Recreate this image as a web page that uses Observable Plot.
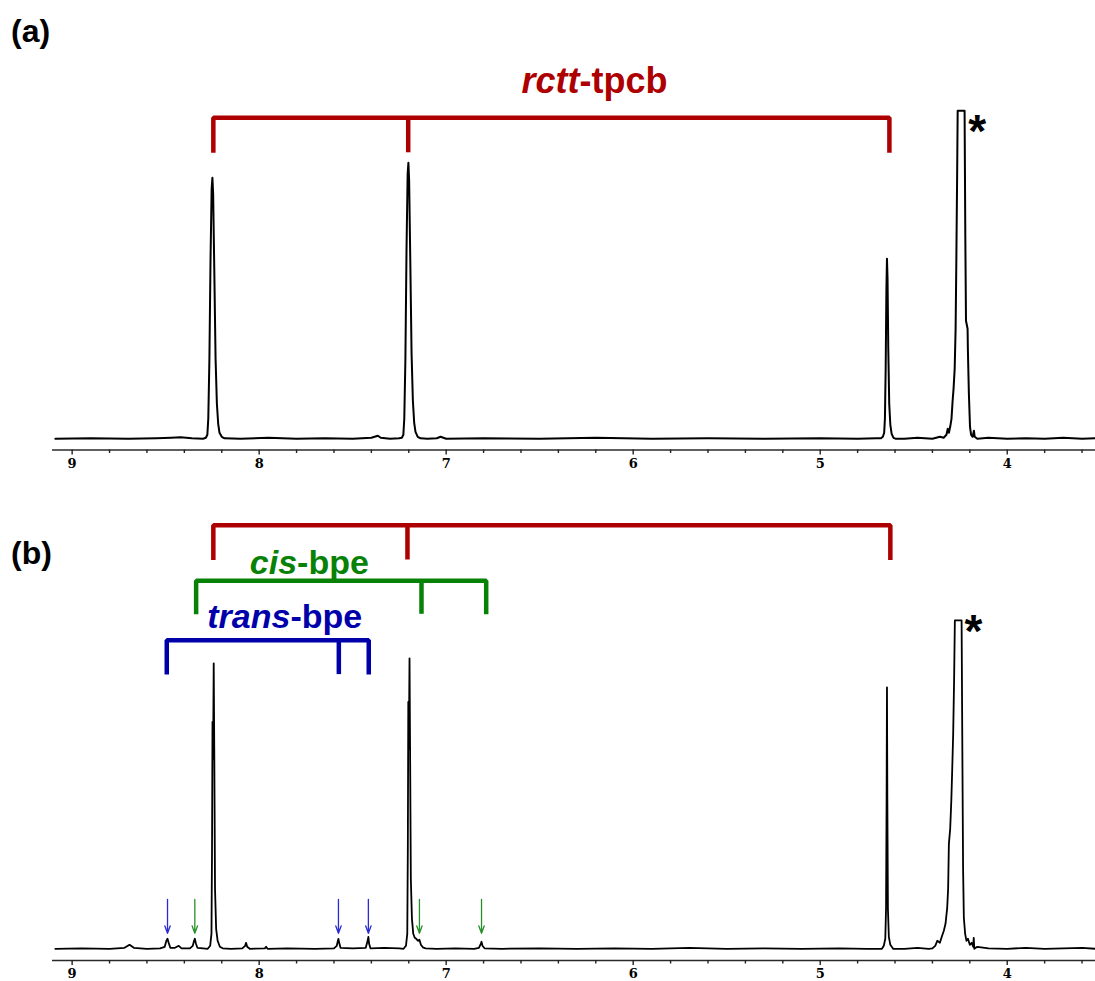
<!DOCTYPE html>
<html><head><meta charset="utf-8">
<script src="https://cdn.jsdelivr.net/npm/d3@7"></script>
<script src="https://cdn.jsdelivr.net/npm/@observablehq/plot@0.6"></script>
<style>
html,body{margin:0;padding:0;background:#fff;}
#wrap{position:relative;width:1095px;height:981px;overflow:hidden;background:#fff;}
.panel{position:absolute;left:0;}
.lab{position:absolute;left:11px;font:bold 32px "Liberation Sans",Arial,sans-serif;line-height:32px;color:#000;}
g[aria-label="x-axis tick label"]{font-family:"DejaVu Serif",serif;font-weight:bold;font-size:13px;}
</style></head>
<body><div id="wrap"></div>
<script>
// ---------- data ----------
const majorTicks = [9, 8, 7, 6, 5, 4];
const minorTicks = [8.8, 8.6, 8.4, 8.2, 7.8, 7.6, 7.4, 7.2, 6.8, 6.6, 6.4, 6.2, 5.8, 5.6, 5.4, 5.2, 4.8, 4.6, 4.4, 4.2, 3.8, 3.6];

// Spectrum (a): chemical shift (ppm) and intensity
const ppmA = [
  9.09, 8.90, 8.70, 8.55, 8.47, 8.42, 8.36, 8.30,
  8.285, 8.277, 8.272, 8.266, 8.260, 8.254, 8.250, 8.246, 8.240, 8.233, 8.226, 8.219, 8.212, 8.200, 8.185,
  8.10, 7.95, 7.80, 7.65, 7.50, 7.40, 7.365, 7.35, 7.30,
  7.252, 7.237, 7.229, 7.224, 7.218, 7.212, 7.206, 7.202, 7.198, 7.192, 7.185, 7.178, 7.171, 7.164, 7.152, 7.137,
  7.10, 7.05, 7.03, 7.00, 6.80, 6.50, 6.20, 5.90, 5.60, 5.30, 5.00, 4.80, 4.70,
  4.675, 4.665, 4.658, 4.654, 4.650, 4.646, 4.643, 4.640, 4.636, 4.631, 4.625, 4.618, 4.608, 4.595,
  4.55, 4.48, 4.40, 4.36, 4.34,
  4.325, 4.318, 4.312, 4.305, 4.298, 4.292, 4.287, 4.281, 4.276, 4.272, 4.268, 4.265, 4.228, 4.224, 4.2205, 4.212, 4.2105, 4.205, 4.199, 4.193, 4.185, 4.178, 4.174, 4.16,
  4.10, 4.00, 3.90, 3.80, 3.70, 3.60, 3.528
];
const intA = [
  0, 0.5, 0, 0.5, 1, 1.5, 0.5, 0,
  1, 4, 20, 80, 180, 250, 261, 245, 170, 80, 35, 15, 6, 2, 0.5,
  0, 1, 0, 0.5, 0, 1, 3, 1, 0,
  0.5, 1, 4, 20, 80, 190, 265, 276, 258, 180, 85, 38, 16, 7, 2, 0.5,
  0, 0.5, 2, 0, 0.5, 0, 1, 0, 0.5, 0, 0.5, 0, 0.5,
  0.5, 2, 6, 20, 70, 150, 180, 160, 90, 35, 14, 5, 1, 0,
  0, 1, 0, 2, 1,
  4, 10, 6, 12, 20, 38, 50, 70, 110, 180, 260, 328, 328, 200, 118, 110, 90, 45, 12, 4, 2, 8, 2, 0,
  1, 0, 0.5, 0, 1, 0, 0.5
];

// Spectrum (b)
const ppmB = [
  9.09, 8.95, 8.80, 8.72, 8.693, 8.67, 8.60, 8.53, 8.505, 8.496, 8.490, 8.484, 8.475, 8.45, 8.43, 8.415, 8.37, 8.355, 8.348, 8.344, 8.338, 8.33, 8.30, 8.275,
  8.262, 8.255, 8.252, 8.2495, 8.247, 8.245, 8.243, 8.240, 8.236, 8.230, 8.222, 8.21, 8.195,
  8.15, 8.09, 8.075, 8.070, 8.064, 8.05, 7.97, 7.963, 7.955, 7.85, 7.70, 7.60, 7.585, 7.579, 7.576, 7.572, 7.565, 7.50, 7.43, 7.420, 7.416, 7.412, 7.405, 7.33, 7.25, 7.228,
  7.215, 7.208, 7.205, 7.2025, 7.200, 7.198, 7.196, 7.193, 7.189, 7.183, 7.176, 7.168, 7.160, 7.150, 7.143, 7.135, 7.125, 7.110,
  7.05, 6.95, 6.85, 6.825, 6.815, 6.811, 6.806, 6.795, 6.70, 6.50, 6.30, 6.10, 5.90, 5.70, 5.50, 5.30, 5.10, 4.90, 4.75, 4.67,
  4.660, 4.652, 4.648, 4.645, 4.643, 4.641, 4.638, 4.633, 4.625, 4.61,
  4.55, 4.48, 4.42, 4.40,
  4.385, 4.374, 4.36, 4.35, 4.339, 4.33, 4.321, 4.316, 4.312, 4.305, 4.299, 4.294, 4.289, 4.284, 4.280, 4.244, 4.240, 4.236, 4.232, 4.225, 4.218, 4.21, 4.20, 4.19, 4.182, 4.179, 4.176, 4.16,
  4.10, 4.00, 3.90, 3.80, 3.70, 3.60, 3.528
];
const intB = [
  0, 0.5, 0, 1, 4, 1, 0, 0.5, 2, 8, 10, 6, 1, 1, 3, 0.5, 0.5, 3, 8, 10, 5, 1, 0.5, 0,
  3, 15, 100, 227, 190, 230, 285.5, 200, 60, 20, 8, 2, 0.5,
  0, 0.5, 3, 6, 2, 0, 0.5, 2, 0, 0.5, 0, 0.5, 3, 8, 10, 6, 1, 0.5, 1, 8, 12, 5, 0.5, 1, 0.5, 0,
  3, 15, 100, 247, 200, 240, 290.5, 200, 70, 30, 15, 11, 10, 8, 9, 4, 1.5, 0.5,
  0, 0.5, 0, 1, 5, 7, 3, 0.5, 0, 0.5, 0, 0.5, 0, 1, 0, 0.5, 0, 0.5, 0, 0,
  3, 10, 40, 150, 261.5, 150, 40, 12, 4, 0,
  0, 1, 0, 0.5,
  3, 8, 6, 12, 18, 25, 41, 60, 105, 120, 148, 180, 215, 270, 328.5, 328.5, 200, 80, 31, 15, 8, 10, 4, 6, 2, 11, 0, 2,
  0.5, 0, 1, 0, 0.5, 1, 0
];

// Assignment brackets (ppm)
const rcttShiftsA = [8.245, 7.203, 4.63];
const rcttShiftsB = [8.245, 7.207, 4.625];
const cisShifts   = [8.337, 7.132, 6.786];
const transShifts = [8.494, 7.574, 7.414];
// Arrows marking minor signals in (b)
const transArrows = [8.490, 7.576, 7.416];
const cisArrows   = [8.344, 7.143, 6.811];

// Labels
const rcttLabel = ["rctt", "-tpcb"];
const cisLabel = ["cis", "-bpe"];
const transLabel = ["trans", "-bpe"];
const panelLabels = ["(a)", "(b)"];

if (ppmA.length !== intA.length || ppmB.length !== intB.length) console.error("length mismatch", ppmA.length, intA.length, ppmB.length, intB.length);

// ---------- styles ----------
const RED = "#ad0000", GREEN = "#078207", BLUE = "#0000aa";
const ARROW_BLUE = "#2b2bd0", ARROW_GREEN = "#2a8f2a";
const X_DOMAIN = [9.105, 3.528];
const FONT = "Liberation Sans, Arial, sans-serif";

function bracket(shifts, hi, lo, color) {
  const path = [
    {x: shifts[0], y: lo}, {x: shifts[0], y: hi},
    {x: shifts[shifts.length - 1], y: hi}, {x: shifts[shifts.length - 1], y: lo}
  ];
  return [
    Plot.line(path, {x: "x", y: "y", stroke: color, strokeWidth: 4.5, strokeLinejoin: "miter", strokeLinecap: "butt"}),
    Plot.ruleX(shifts.slice(1, -1), {x: d => d, y1: () => lo, y2: () => hi, stroke: color, strokeWidth: 4.5, strokeLinecap: "butt"})
  ];
}
function twoPart(parts, splitX, baseY, color, size) {
  const common = {x: () => splitX, y: () => baseY, text: d => d, fill: color, fontSize: size, fontWeight: "bold", fontFamily: FONT, lineAnchor: "bottom"};
  return [
    Plot.text([parts[0]], {...common, textAnchor: "end", fontStyle: "italic"}),
    Plot.text([parts[1]], {...common, textAnchor: "start"})
  ];
}
function axes(axisLevel) {
  return [
    Plot.ruleY([axisLevel], {stroke: "#2a2a2a", strokeWidth: 1.7}),
    Plot.axisX(minorTicks, {tickSize: 3.5, tickFormat: () => "", stroke: "#222", strokeWidth: 1.4}),
    Plot.axisX(majorTicks, {tickSize: 5, tickPadding: 3.5, tickFormat: d => String(d), stroke: "#222", strokeWidth: 1.4,
      fontSize: 13, fontWeight: "bold", fontFamily: "DejaVu Serif, serif", fill: "#000"})
  ];
}
function star(x, y) {
  return Plot.text(["*"], {x: () => x, y: () => y, text: d => d, fontSize: 46, fontWeight: "bold", fontFamily: FONT, fill: "#000", textAnchor: "middle", lineAnchor: "bottom"});
}

const specA = ppmA.map((p, i) => ({ppm: p, I: intA[i]}));
const specB = ppmB.map((p, i) => ({ppm: p, I: intB[i]}));

// ---------- panel (a) ----------
const plotA = Plot.plot({
  width: 1095, height: 480,
  marginLeft: 52, marginRight: 0, marginTop: 0, marginBottom: 30.5,
  x: {domain: X_DOMAIN, range: [52, 1095]},
  y: {domain: [-11.2, 438.3], range: [449.5, 0], axis: null},
  style: {fontFamily: FONT, background: "white", overflow: "visible"},
  marks: [
    ...axes(-11.2),
    Plot.line(specA, {x: "ppm", y: "I", stroke: "#000", strokeWidth: 2, strokeLinejoin: "round"}),
    ...bracket(rcttShiftsA, 321, 286, RED),
    ...twoPart(rcttLabel, 6.287, 346, RED, 36),
    star(4.160, 291.7)
  ]
});

// ---------- panel (b) ----------
const plotB = Plot.plot({
  width: 1095, height: 501,
  marginLeft: 52, marginRight: 0, marginTop: 0, marginBottom: 21,
  x: {domain: X_DOMAIN, range: [52, 1095]},
  y: {domain: [-11.7, 468.3], range: [480, 0], axis: null},
  style: {fontFamily: FONT, background: "white", overflow: "visible"},
  marks: [
    ...axes(-11.7),
    Plot.line(specB, {x: "ppm", y: "I", stroke: "#000", strokeWidth: 1.8, strokeLinejoin: "round"}),
    ...bracket(rcttShiftsB, 423.5, 388.8, RED),
    ...bracket(cisShifts, 368, 334.5, GREEN),
    ...bracket(transShifts, 308.5, 274.2, BLUE),
    ...twoPart(cisLabel, 7.797, 374.8, GREEN, 34),
    ...twoPart(transLabel, 7.833, 320.8, BLUE, 34),
    Plot.arrow(transArrows, {x1: d => d, x2: d => d, y1: () => 49.5, y2: () => 15.5, stroke: ARROW_BLUE, strokeWidth: 1.3, headLength: 9, headAngle: 40}),
    Plot.arrow(cisArrows, {x1: d => d, x2: d => d, y1: () => 49.5, y2: () => 15.5, stroke: ARROW_GREEN, strokeWidth: 1.3, headLength: 9, headAngle: 40}),
    star(4.180, 301.7)
  ]
});

const wrap = document.getElementById("wrap");
const a = document.createElement("div"); a.className = "panel"; a.style.top = "0px"; a.appendChild(plotA);
const b = document.createElement("div"); b.className = "panel"; b.style.top = "480px"; b.appendChild(plotB);
wrap.appendChild(a); wrap.appendChild(b);
panelLabels.forEach((t, i) => {
  const d = document.createElement("div");
  d.className = "lab"; d.textContent = t;
  d.style.top = (i === 0 ? 14.6 : 536.6) + "px";
  wrap.appendChild(d);
});
</script></body></html>
